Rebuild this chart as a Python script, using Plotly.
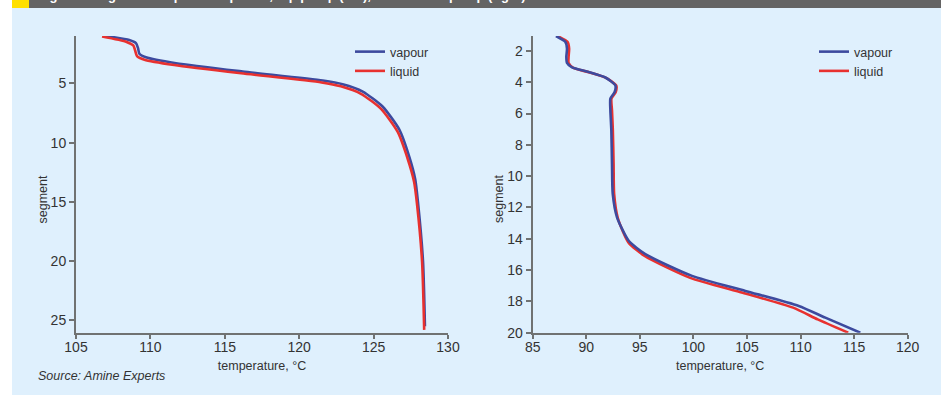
import plotly.graph_objects as go

# ---------------- data ----------------
# Left panel: top pump
left_vap_T = [107.0, 108.58, 109.03, 109.17, 109.26, 109.7, 111.72, 116.2, 121.58, 122.92,
              124.27, 125.6, 126.73, 127.4, 127.8, 127.98, 128.32, 128.45]
left_vap_seg = [1.0, 1.34, 1.6, 2.03, 2.5, 2.8, 3.3, 4.0, 4.76, 5.07,
                5.69, 6.95, 8.9, 11.2, 13.1, 15.0, 20.0, 25.5]
left_liq_T = [106.75, 108.4, 108.85, 108.97, 109.1, 109.6, 111.6, 116.1, 121.5, 122.8,
              124.15, 125.5, 126.62, 127.3, 127.72, 127.92, 128.26, 128.4]
left_liq_seg = [1.05, 1.5, 1.8, 2.2, 2.7, 3.0, 3.45, 4.15, 4.92, 5.25,
                5.88, 7.15, 9.1, 11.4, 13.3, 15.2, 20.1, 25.8]

# Right panel: bottom pump
right_vap_T = [87.17, 88.04, 88.2, 88.14, 88.2, 88.67, 90.23, 91.78, 92.71, 92.65, 92.25,
               92.25, 92.34, 92.4, 92.47, 92.87, 93.96, 95.51, 99.87, 104.85, 109.83,
               112.31, 115.58]
right_vap_seg = [1.05, 1.42, 1.85, 2.38, 2.77, 3.06, 3.35, 3.7, 4.2, 4.63, 5.05,
                 5.8, 7.08, 9.21, 11.14, 12.63, 14.13, 14.98, 16.37, 17.33, 18.29,
                 19.04, 20.0]
right_liq_T = [87.3, 88.25, 88.4, 88.35, 88.35, 88.8, 90.3, 91.85, 92.8, 92.75, 92.35,
               92.4, 92.48, 92.55, 92.6, 92.95, 93.95, 95.45, 99.7, 104.6, 109.3,
               111.6, 114.45]
right_liq_seg = [1.05, 1.42, 1.85, 2.38, 2.77, 3.08, 3.38, 3.73, 4.22, 4.63, 5.05,
                 5.8, 7.08, 9.21, 11.14, 12.7, 14.25, 15.1, 16.5, 17.45, 18.4,
                 19.15, 20.0]

left_xticks = [105, 110, 115, 120, 125, 130]
left_yticks = [5, 10, 15, 20, 25]
right_xticks = [85, 90, 95, 100, 105, 110, 115, 120]
right_yticks = [2, 4, 6, 8, 10, 12, 14, 16, 18, 20]

series_names = ["vapour", "liquid"]
title_text = "Figure 4 Segment temperature profile, top pump (left), and bottom pump (right)"
source_text = "Source: Amine Experts"
x_title = "temperature, °C"
y_title = "segment"

# ---------------- style ----------------
W, H = 941, 395
BLUE = "#3d4a9e"
RED = "#e8312f"
BG = "#dff0fd"
AXIS = "#707272"
TXT = "#333333"
FONT = "Liberation Sans"

def px_x(p):
    return p / W

def px_y(p):
    return 1 - p / H

fig = go.Figure()

fig.add_trace(go.Scatter(x=left_vap_T, y=left_vap_seg, name=series_names[0], mode="lines",
                         line=dict(color=BLUE, width=2.6, shape="spline", smoothing=0.6),
                         xaxis="x", yaxis="y", legend="legend"))
fig.add_trace(go.Scatter(x=left_liq_T, y=left_liq_seg, name=series_names[1], mode="lines",
                         line=dict(color=RED, width=2.6, shape="spline", smoothing=0.6),
                         xaxis="x", yaxis="y", legend="legend"))
fig.add_trace(go.Scatter(x=right_liq_T, y=right_liq_seg, name=series_names[1], mode="lines",
                         line=dict(color=RED, width=2.6, shape="spline", smoothing=0.6),
                         xaxis="x2", yaxis="y2", legend="legend2"))
fig.add_trace(go.Scatter(x=right_vap_T, y=right_vap_seg, name=series_names[0], mode="lines",
                         line=dict(color=BLUE, width=2.6, shape="spline", smoothing=0.6),
                         xaxis="x2", yaxis="y2", legend="legend2"))

axis_common = dict(showline=True, linecolor=AXIS, linewidth=2, showgrid=False, zeroline=False,
                   ticks="outside", tickwidth=1.5, tickcolor=AXIS, automargin=False,
                   tickfont=dict(family=FONT, size=14, color=TXT))
x_extra = dict(ticklen=4, ticklabelstandoff=-4)
y_extra = dict(ticklen=5)

y0d, y1d = px_y(332.7), px_y(36)

fig.update_layout(
    width=W, height=H,
    margin=dict(l=0, r=0, t=0, b=0, pad=0, autoexpand=False),
    paper_bgcolor="white",
    plot_bgcolor="rgba(0,0,0,0)",
    font=dict(family=FONT, color=TXT, size=12.5),
    xaxis=dict(domain=[px_x(76), px_x(448)], range=[105, 130], tickvals=left_xticks,
               anchor="y", title=dict(text=x_title, standoff=8,
                                      font=dict(family=FONT, size=12.5, color=TXT)),
               **axis_common, **x_extra),
    yaxis=dict(domain=[y0d, y1d], range=[26.04, 1.0], tickvals=left_yticks, anchor="x",
               **axis_common, **y_extra),
    xaxis2=dict(domain=[px_x(532.7), px_x(907.7)], range=[85, 120], tickvals=right_xticks,
                anchor="y2", title=dict(text=x_title, standoff=8,
                                        font=dict(family=FONT, size=12.5, color=TXT)),
                **axis_common, **x_extra),
    yaxis2=dict(domain=[y0d, y1d], range=[20.0, 1.05], tickvals=right_yticks, anchor="x2",
                **axis_common, **y_extra),
    legend=dict(x=px_x(350), y=px_y(37), xanchor="left", yanchor="top",
                bgcolor="rgba(0,0,0,0)", font=dict(family=FONT, size=12.5, color=TXT),
                traceorder="normal"),
    legend2=dict(x=px_x(814), y=px_y(37), xanchor="left", yanchor="top",
                 bgcolor="rgba(0,0,0,0)", font=dict(family=FONT, size=12.5, color=TXT),
                 traceorder="reversed"),
    showlegend=True,
)

shapes = [
    dict(type="rect", xref="paper", yref="paper", x0=px_x(12), x1=1, y0=0, y1=px_y(8),
         fillcolor=BG, line=dict(width=0), layer="below"),
    dict(type="rect", xref="paper", yref="paper", x0=px_x(29), x1=1, y0=px_y(8), y1=1,
         fillcolor="#646464", line=dict(width=0), layer="below"),
    dict(type="rect", xref="paper", yref="paper", x0=px_x(12), x1=px_x(29), y0=px_y(8), y1=1,
         fillcolor="#ffe000", line=dict(width=0), layer="below"),
]
fig.update_layout(shapes=shapes)

annotations = [
    dict(text=y_title, x=px_x(42), y=px_y(199.5), xref="paper", yref="paper",
         textangle=-90, showarrow=False, xanchor="center", yanchor="middle",
         font=dict(family=FONT, size=12.5, color=TXT)),
    dict(text=y_title, x=px_x(498.5), y=px_y(199.5), xref="paper", yref="paper",
         textangle=-90, showarrow=False, xanchor="center", yanchor="middle",
         font=dict(family=FONT, size=12.5, color=TXT)),
    dict(text="<i>" + source_text + "</i>", x=px_x(36), y=px_y(375.7), xref="paper", yref="paper",
         showarrow=False, xanchor="left", yanchor="middle",
         font=dict(family=FONT, size=12.5, color=TXT)),
    dict(text="<b>" + title_text + "</b>", x=px_x(36), y=px_y(5), xref="paper", yref="paper",
         showarrow=False, xanchor="left", yanchor="bottom",
         font=dict(family=FONT, size=13, color="white")),
]
fig.update_layout(annotations=annotations)

fig.write_html("out.html")
